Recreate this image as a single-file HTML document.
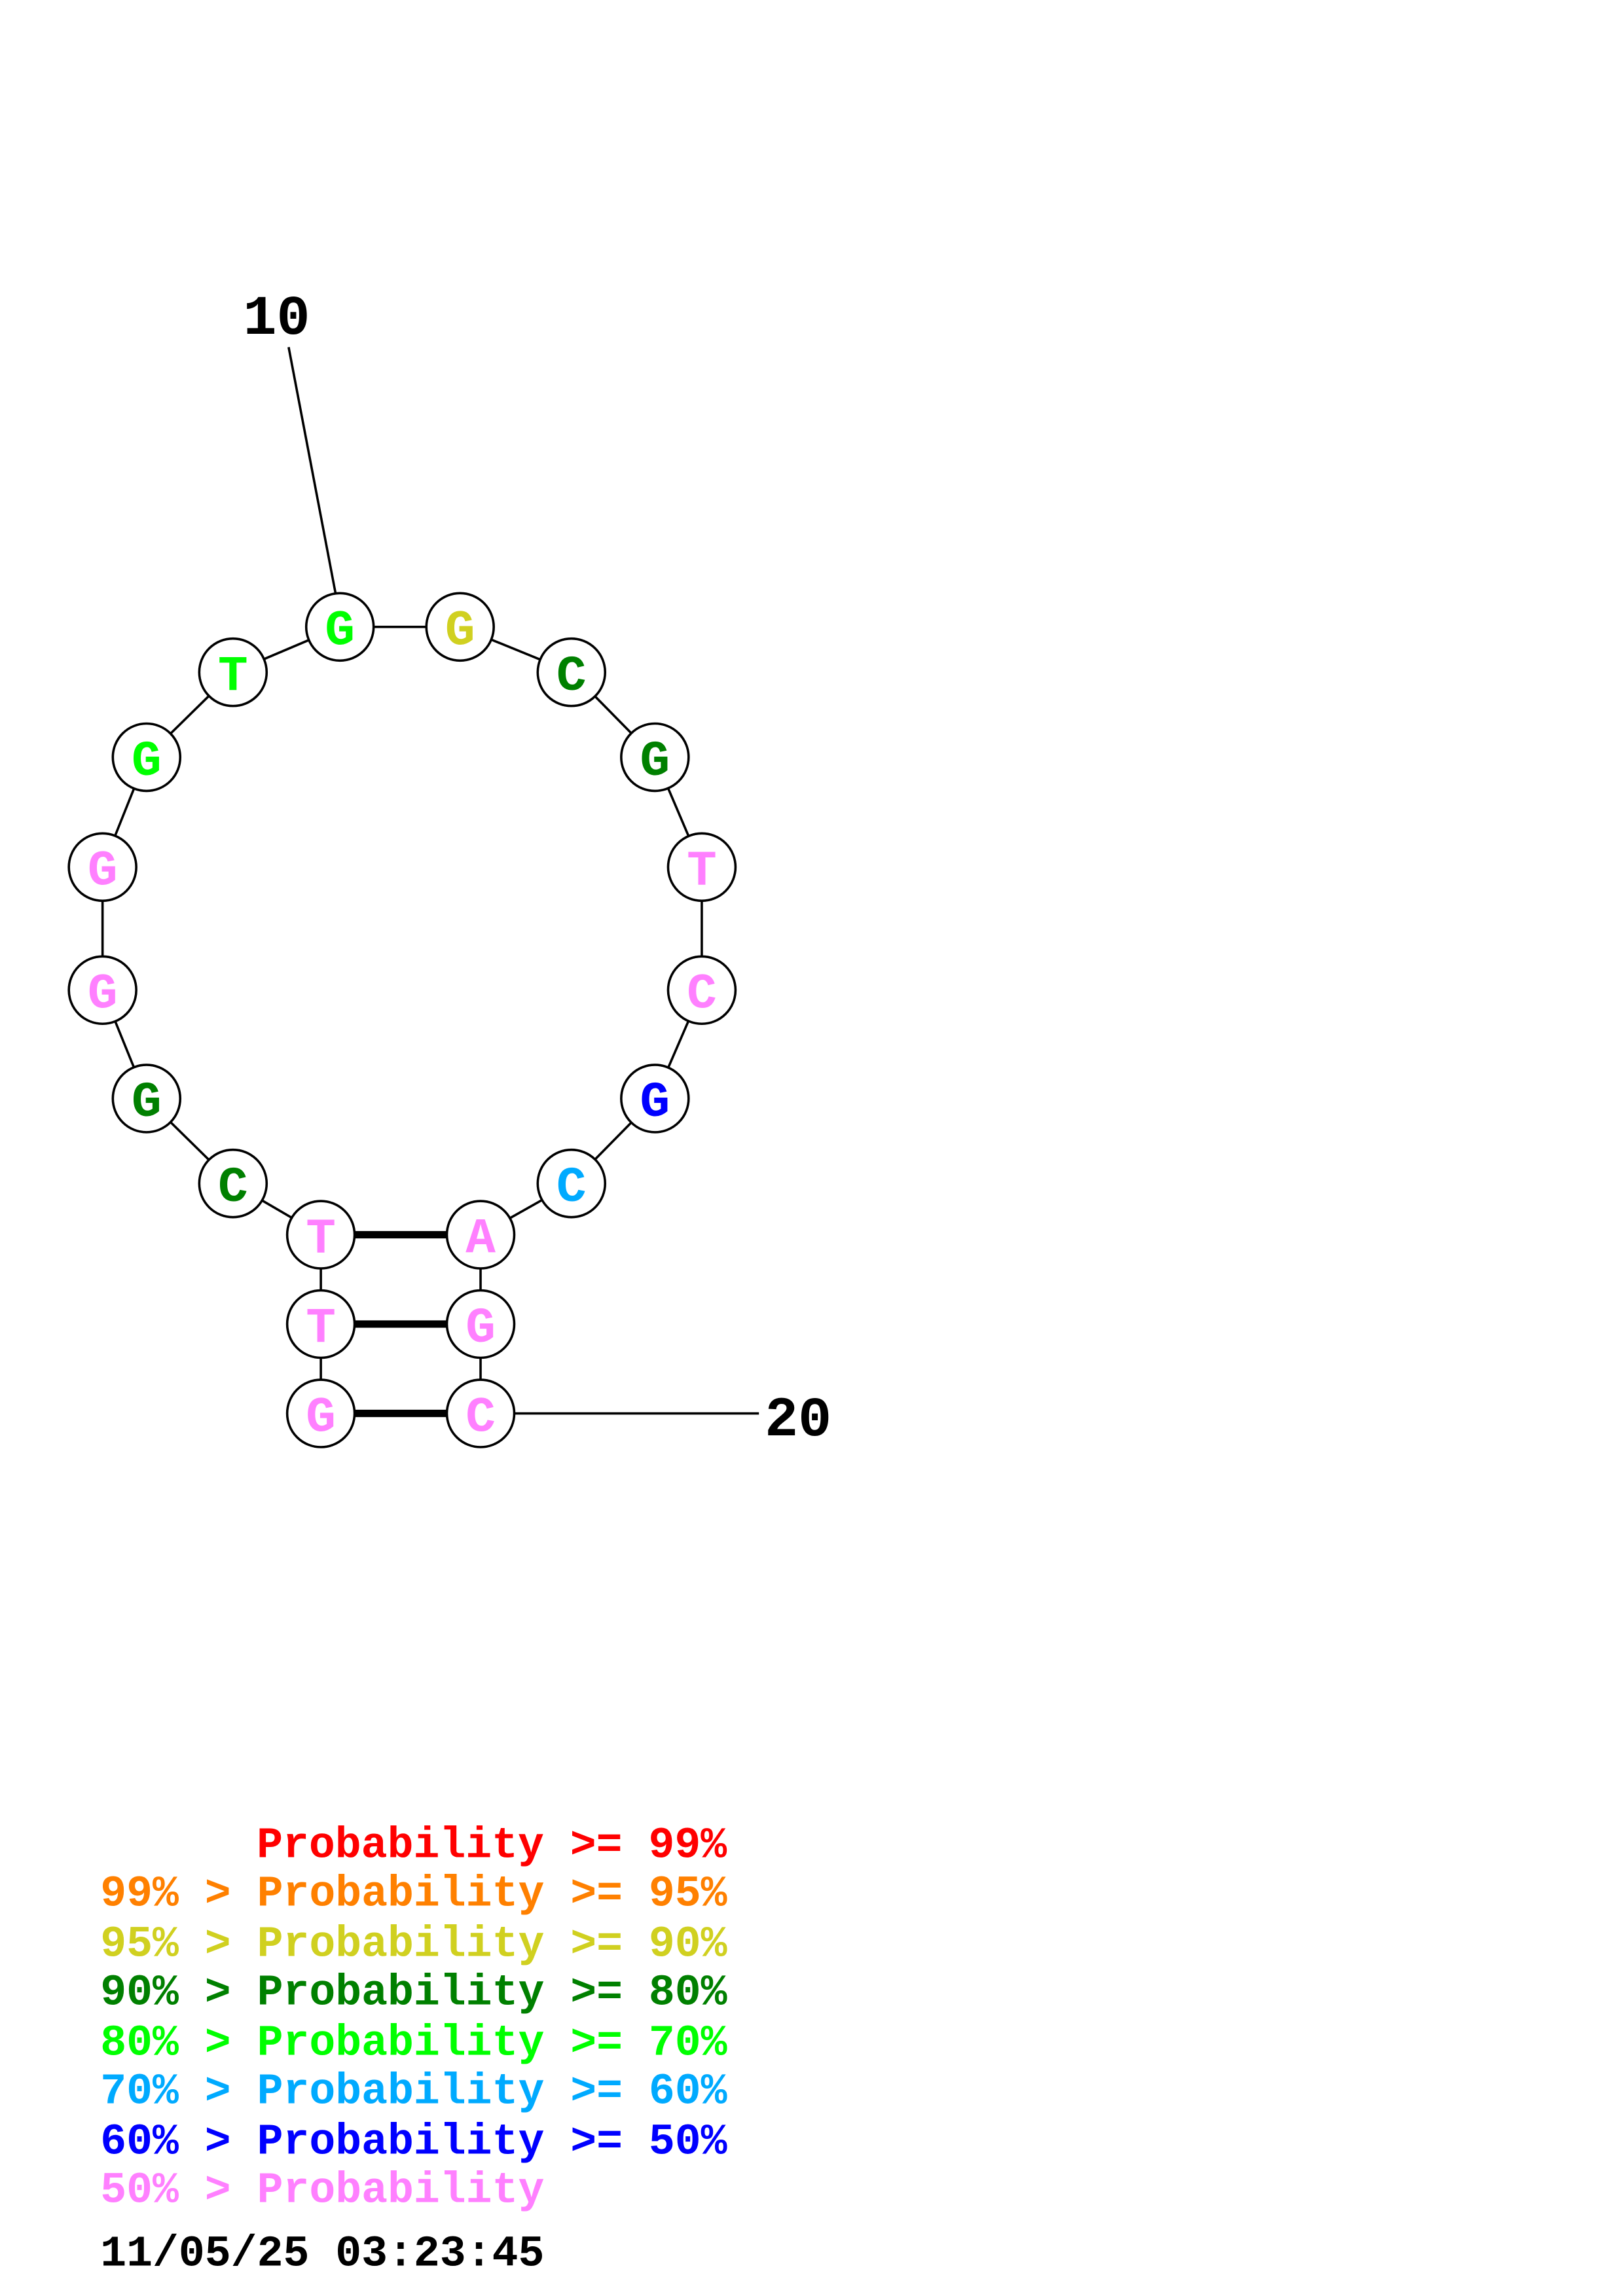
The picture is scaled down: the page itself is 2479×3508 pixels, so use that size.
<!DOCTYPE html>
<html><head><meta charset="utf-8"><style>html,body{margin:0;padding:0;background:#fff}svg{display:block}</style></head>
<body>
<svg width="2479" height="3508" viewBox="0 0 1100 1556.6" xmlns="http://www.w3.org/2000/svg" font-family="Liberation Mono, monospace" font-weight="bold">
<rect width="1100" height="1556.6" fill="#fff"/>
<g transform="scale(0.993)">
<g stroke="#000" stroke-width="1.6" fill="none">
<polyline points="232,428 314,428 390,459 447,517 479,592 479,676 447,750 390,808 328,843 328,904 328,965"/>
<polyline points="219,965 219,904 219,843 159,808 100,750 70,676 70,592 100,517 159,459 232,428"/>
<line x1="197" y1="237" x2="229" y2="405"/>
<line x1="350" y1="965" x2="518" y2="965"/>
</g>
<g stroke="#000" stroke-width="5">
<line x1="242" y1="843" x2="305" y2="843"/>
<line x1="242" y1="904" x2="305" y2="904"/>
<line x1="242" y1="965" x2="305" y2="965"/>
</g>
<g stroke="#000" stroke-width="1.6" fill="#fff">
<circle cx="232" cy="428" r="23"/><circle cx="314" cy="428" r="23"/><circle cx="390" cy="459" r="23"/><circle cx="447" cy="517" r="23"/><circle cx="479" cy="592" r="23"/><circle cx="479" cy="676" r="23"/><circle cx="447" cy="750" r="23"/><circle cx="390" cy="808" r="23"/><circle cx="328" cy="843" r="23"/><circle cx="328" cy="904" r="23"/><circle cx="328" cy="965" r="23"/><circle cx="219" cy="965" r="23"/><circle cx="219" cy="904" r="23"/><circle cx="219" cy="843" r="23"/><circle cx="159" cy="808" r="23"/><circle cx="100" cy="750" r="23"/><circle cx="70" cy="676" r="23"/><circle cx="70" cy="592" r="23"/><circle cx="100" cy="517" r="23"/><circle cx="159" cy="459" r="23"/>
</g>
<g font-size="34" text-anchor="middle">
<text x="232" y="440" fill="#00ff00">G</text>
<text x="314" y="440" fill="#d0d020">G</text>
<text x="390" y="471" fill="#008000">C</text>
<text x="447" y="529" fill="#008000">G</text>
<text x="479" y="604" fill="#ff80ff">T</text>
<text x="479" y="688" fill="#ff80ff">C</text>
<text x="447" y="762" fill="#0000ff">G</text>
<text x="390" y="820" fill="#00aaff">C</text>
<text x="328" y="855" fill="#ff80ff">A</text>
<text x="328" y="916" fill="#ff80ff">G</text>
<text x="328" y="977" fill="#ff80ff">C</text>
<text x="219" y="977" fill="#ff80ff">G</text>
<text x="219" y="916" fill="#ff80ff">T</text>
<text x="219" y="855" fill="#ff80ff">T</text>
<text x="159" y="820" fill="#008000">C</text>
<text x="100" y="762" fill="#008000">G</text>
<text x="70" y="688" fill="#ff80ff">G</text>
<text x="70" y="604" fill="#ff80ff">G</text>
<text x="100" y="529" fill="#00ff00">G</text>
<text x="159" y="471" fill="#00ff00">T</text>
</g>
<g font-size="38" fill="#000">
<text x="166" y="228">10</text>
<text x="522" y="980">20</text>
</g>
</g>
<g font-size="29.5">
<text x="174" y="1259" fill="#ff0000">Probability &gt;= 99%</text>
<text x="68" y="1292" fill="#ff8000">99% &gt; Probability &gt;= 95%</text>
<text x="68" y="1326" fill="#d0d020">95% &gt; Probability &gt;= 90%</text>
<text x="68" y="1359" fill="#008000">90% &gt; Probability &gt;= 80%</text>
<text x="68" y="1393" fill="#00ff00">80% &gt; Probability &gt;= 70%</text>
<text x="68" y="1426" fill="#00aaff">70% &gt; Probability &gt;= 60%</text>
<text x="68" y="1460" fill="#0000ff">60% &gt; Probability &gt;= 50%</text>
<text x="68" y="1493" fill="#ff80ff">50% &gt; Probability</text>
<text x="68" y="1536" fill="#000">11/05/25 03:23:45</text>
</g>
</svg>
</body></html>
